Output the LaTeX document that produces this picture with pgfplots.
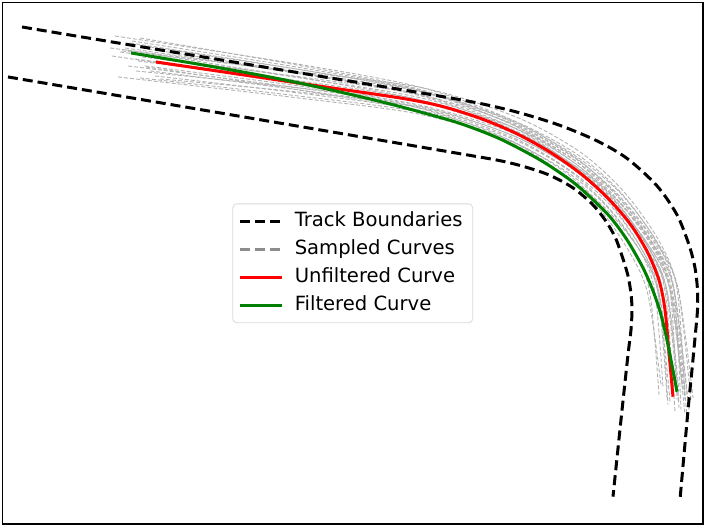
\documentclass[border=0pt]{standalone}
\usepackage{fontspec}
\setmainfont{DejaVu Sans}
\usepackage{pgfplots}
\pgfplotsset{compat=1.18}

% coordinates are image pixels of the original figure, y downwards
\pgfplotsset{
  track/.style={black, line width=1.5pt, dash pattern=on 5pt off 2.5pt},
  sample/.style={black!30, line width=0.45pt, dash pattern=on 2pt off 1pt, smooth, forget plot},
}

\begin{document}
\begin{tikzpicture}
\begin{axis}[
    scale only axis,
    width=350.5pt, height=261pt,
    xmin=2.5, xmax=703, ymin=2.5, ymax=524.5,
    y dir=reverse,
    xtick=\empty, ytick=\empty,
    axis line style={line width=0.8pt},
    legend image code/.code={\draw[#1] (0pt,0pt) -- (21pt,0pt);},
    legend cell align=left,
    legend style={at={(0.5,0.5)}, anchor=center, draw=black!15, rounded corners=2pt,
      font=\fontsize{9.8}{11}\selectfont, row sep=2.5pt, column sep=3.5pt,
      inner xsep=3pt, inner ysep=3pt,
      nodes={text height=7.5pt, text depth=2pt, inner ysep=1pt, inner xsep=2pt}},
]
% sampled curves
\addplot[sample] coordinates {(130,43) (302,70) (422,92) (513,125) (574,160) (617,199) (652,245) (672,290) (685,400)};
\addplot[sample] coordinates {(150,71) (299,90) (419,108) (509,136) (568,169) (610,205) (642,250) (659,293) (668,405)};
\addplot[sample] coordinates {(120,52) (301,78) (421,98) (512,127) (573,162) (616,199) (651,245) (671,290) (683,390)};
\addplot[sample] coordinates {(140,78) (298,96) (418,112) (507,139) (566,173) (605,210) (635,254) (650,294) (659,395)};
\addplot[sample] coordinates {(115,36) (303,65) (423,88) (514,121) (576,158) (618,197) (653,245) (674,290) (689,410)};
\addplot[sample] coordinates {(135,59) (300,81) (420,100) (511,129) (572,164) (615,201) (648,247) (665,291) (675,412)};
\addplot[sample] coordinates {(145,66) (299,86) (419,105) (510,132) (571,165) (614,201) (649,246) (670,290) (682,385)};
\addplot[sample] coordinates {(125,48) (301,74) (421,96) (511,129) (571,166) (611,204) (642,250) (658,293) (667,398)};
\addplot[sample] coordinates {(155,76) (298,93) (418,110) (508,137) (568,170) (608,207) (640,251) (655,293) (663,388)};
\addplot[sample] coordinates {(110,48) (301,73) (422,92) (514,122) (577,157) (621,194) (657,242) (678,289) (691,402)};
\addplot[sample] coordinates {(138,61) (300,83) (420,102) (510,131) (571,165) (613,202) (649,246) (670,290) (685,415)};
\addplot[sample] coordinates {(148,49) (301,73) (421,95) (512,127) (572,165) (612,203) (646,248) (663,292) (673,392)};
\addplot[sample] coordinates {(128,66) (299,88) (419,106) (509,134) (570,167) (612,203) (646,248) (666,291) (679,408)};
\addplot[sample] coordinates {(142,57) (301,77) (421,95) (513,124) (576,159) (619,196) (655,244) (674,290) (687,395)};
\addplot[sample] coordinates {(118,77) (298,98) (418,114) (507,140) (567,172) (607,207) (640,251) (659,293) (671,380)};
\addplot[sample] coordinates {(132,41) (302,68) (422,91) (513,125) (573,162) (615,200) (648,247) (667,291) (679,403)};
\addplot[sample] coordinates {(122,51) (301,72) (423,88) (516,117) (580,152) (624,192) (659,241) (677,289) (685,396)};
\addplot[sample] coordinates {(136,71) (299,88) (420,102) (512,127) (574,160) (618,197) (653,244) (670,290) (677,400)};
\addplot[sample] coordinates {(112,56) (300,85) (419,108) (507,139) (564,175) (602,212) (631,255) (648,295) (661,385)};
\addplot[sample] coordinates {(150,47) (302,70) (422,91) (514,121) (578,155) (622,194) (657,243) (674,290) (681,410)};
\addplot[sample] coordinates {(160,79) (298,92) (419,107) (509,134) (570,167) (612,203) (648,247) (667,291) (679,392)};
\addplot[sample] coordinates {(126,50) (301,78) (420,100) (511,130) (572,164) (616,199) (653,244) (674,290) (687,418)};
\addplot[sample] coordinates {(146,67) (299,90) (418,111) (506,141) (565,175) (606,209) (640,251) (658,293) (670,402)};
\addplot[sample] coordinates {(140,38) (302,66) (422,90) (514,123) (576,159) (619,196) (656,243) (678,289) (693,398)};

% track boundaries
\addplot[track, smooth] coordinates {
  (22,27) (100,40) (200,56.5) (300,73) (380,86.2) (430,94.5) (480,103.5) (520,113)
  (560,125.5) (597,141) (627,158.5) (657,186) (677,215) (689,245) (695,268) (697.5,290)
  (697.5,310) (695.5,333) (692,370) (689,400) (684,455) (680,500)};
\addlegendentry{Track Boundaries}
\addplot[track, smooth, forget plot] coordinates {
  (8,77) (100,92.6) (250,118.1) (360,136.8) (460,153.8) (500,160.8) (525,167) (550,175.5)
  (573,188) (592,204) (605,220) (615,237) (622,256) (628,276) (631,294) (632,310)
  (631,330) (628,355) (621,420) (613,497)};

\addlegendimage{black!45, line width=1.5pt, dash pattern=on 5pt off 2.5pt}
\addlegendentry{Sampled Curves}

\addplot[red, line width=1.5pt, smooth] coordinates {
  (156,62) (250,75.9) (330,87.7) (400,98) (441.5,106.3) (480.8,118.6) (517.6,134.2)
  (551.4,153.1) (581.6,174.5) (608,198.4) (630.1,224.1) (647.1,251.6) (659,280.4)
  (665,310) (669,353) (673,397)};
\addlegendentry{Unfiltered Curve}
\addplot[green!50!black, line width=1.5pt, smooth] coordinates {
  (131,53) (200,64.5) (267,76.5) (320,87.5) (380,101.5) (420,112) (460,123.5) (500,139)
  (540,160) (570,180) (590,197) (610,217) (627,240) (643,268) (653,291) (661,315)
  (668,345) (677,392)};
\addlegendentry{Filtered Curve}
\end{axis}
\path (current axis.south west) ++(-1.25pt,-2.25pt);
\path (current axis.north east) ++(1.5pt,1.25pt);
\end{tikzpicture}
\end{document}
